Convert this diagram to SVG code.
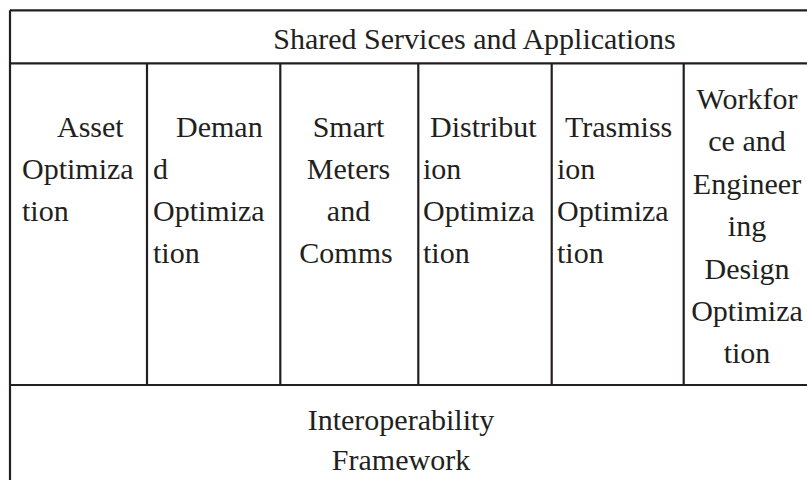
<svg xmlns="http://www.w3.org/2000/svg" width="807" height="480" viewBox="0 0 807 480">
  <style>
    .grid { stroke: #231f20; stroke-width: 2.2; fill: none; }
    .t { font-family: "Liberation Serif", "Times New Roman", serif; font-size: 30px; fill: #231f20; }
    .c { text-anchor: middle; }
  </style>
  <rect width="807" height="480" fill="#ffffff"/>

  <!-- table rules -->
  <g id="connectors">
    <path class="grid" d="M10 10.3 H820 M10 10.3 V490 M10 63.3 H820 M10 385 H820"/>
    <path class="grid" d="M147 63.3 V385 M280.3 63.3 V385 M418.3 63.3 V385 M551.7 63.3 V385 M683.7 63.3 V385"/>
  </g>

  <g id="shared-services">
    <text class="t c" x="474.5" y="49">Shared Services and Applications</text>
  </g>

  <g id="asset-optimization">
    <text class="t" x="57" y="137">Asset</text>
    <text class="t" x="22" y="179">Optimiza</text>
    <text class="t" x="22" y="221">tion</text>
  </g>

  <g id="demand-optimization">
    <text class="t" x="176" y="137">Deman</text>
    <text class="t" x="153" y="179">d</text>
    <text class="t" x="153" y="221">Optimiza</text>
    <text class="t" x="153" y="263">tion</text>
  </g>

  <g id="smart-meters">
    <text class="t c" x="348.5" y="137">Smart</text>
    <text class="t c" x="348.5" y="179">Meters</text>
    <text class="t c" x="348.5" y="221">and</text>
    <text class="t c" x="346" y="263">Comms</text>
  </g>

  <g id="distribution-optimization">
    <text class="t" x="430" y="137">Distribut</text>
    <text class="t" x="423" y="179">ion</text>
    <text class="t" x="423" y="221">Optimiza</text>
    <text class="t" x="423" y="263">tion</text>
  </g>

  <g id="transmission-optimization">
    <text class="t" x="565" y="137">Trasmiss</text>
    <text class="t" x="557" y="179">ion</text>
    <text class="t" x="557" y="221">Optimiza</text>
    <text class="t" x="557" y="263">tion</text>
  </g>

  <g id="workforce-engineering">
    <text class="t c" x="747" y="109">Workfor</text>
    <text class="t c" x="747" y="151">ce and</text>
    <text class="t c" x="747" y="194">Engineer</text>
    <text class="t c" x="747" y="236">ing</text>
    <text class="t c" x="747" y="279">Design</text>
    <text class="t c" x="747" y="321">Optimiza</text>
    <text class="t c" x="747" y="363">tion</text>
  </g>

  <g id="interoperability">
    <text class="t c" x="401" y="430">Interoperability</text>
    <text class="t c" x="401" y="470">Framework</text>
  </g>
</svg>
